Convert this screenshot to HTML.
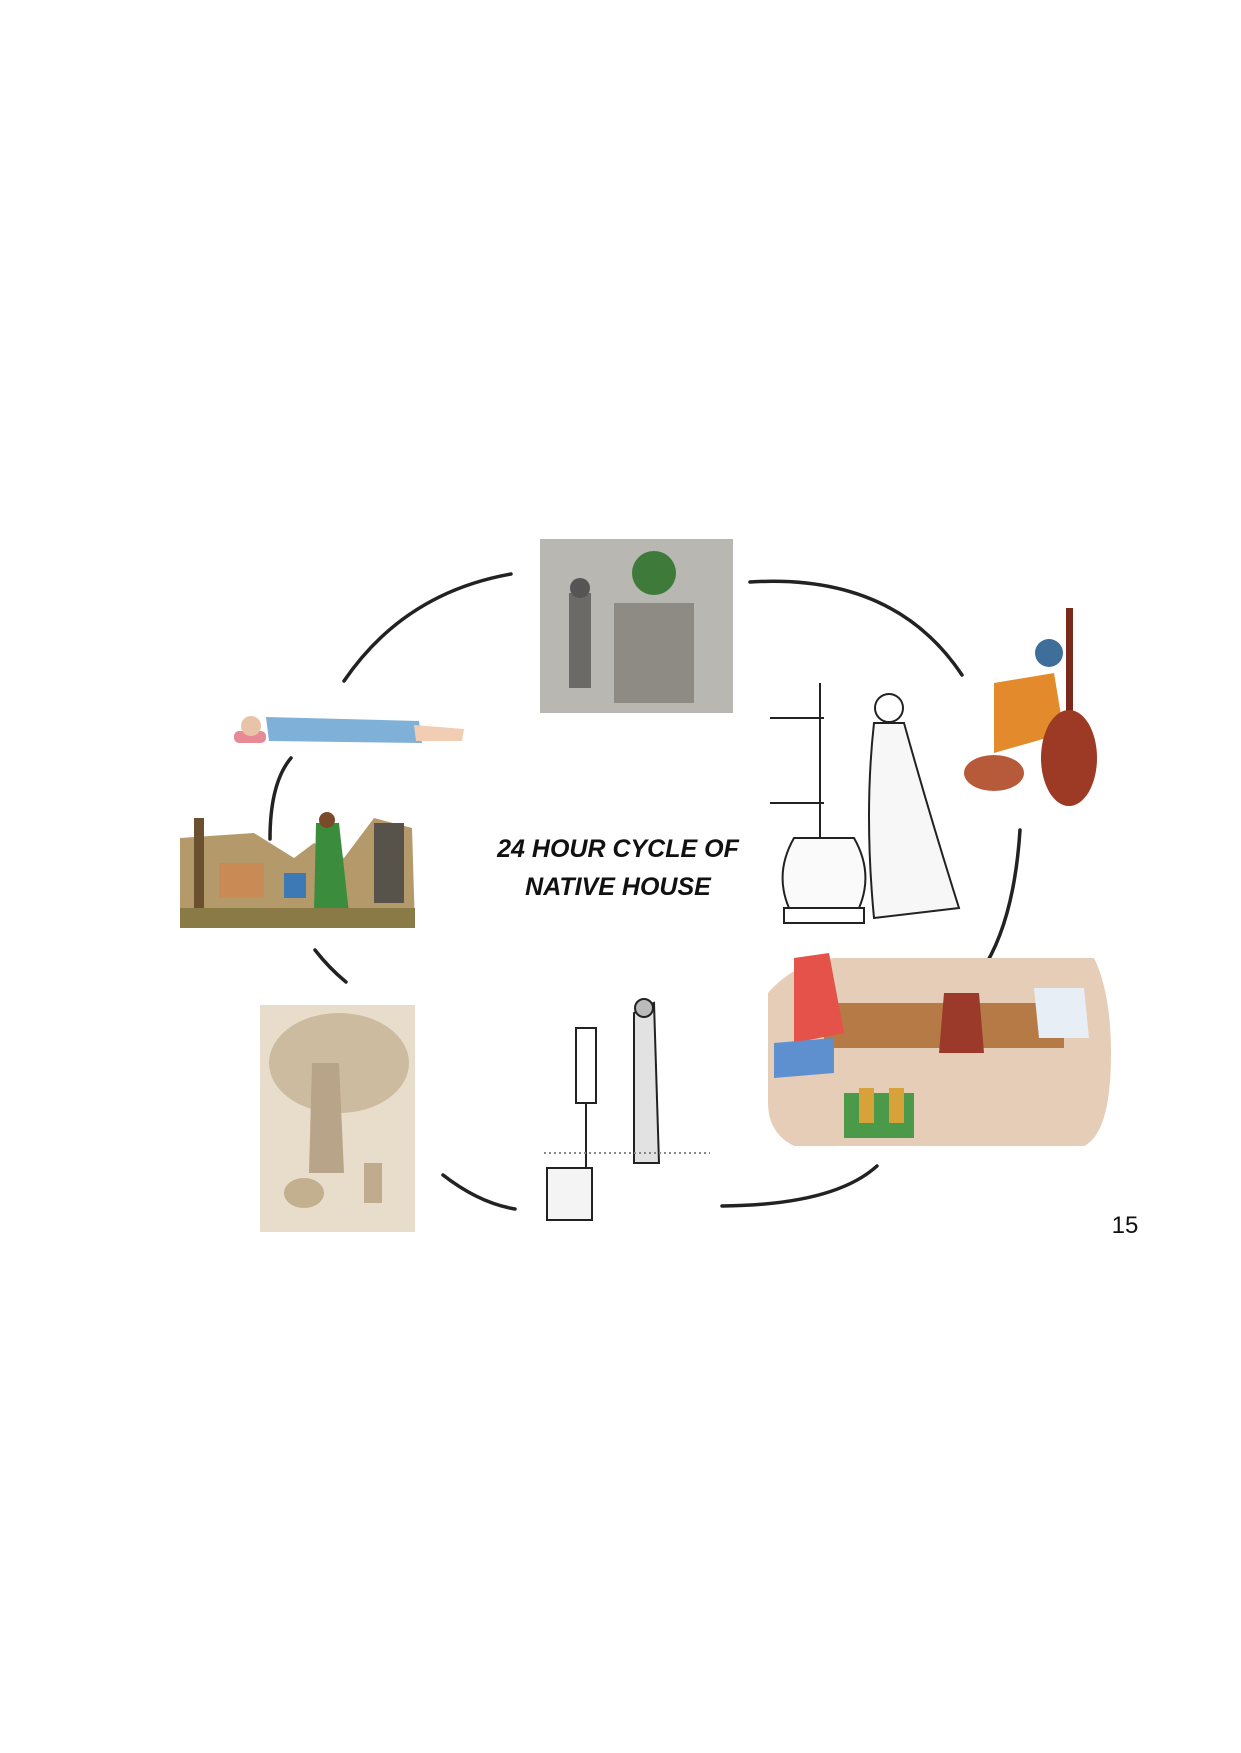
<!DOCTYPE html>
<html><head><meta charset="utf-8"><style>
html,body{margin:0;padding:0;background:#fff}
#page{position:relative;width:1241px;height:1753px;overflow:hidden;background:#fff;font-family:"Liberation Sans",sans-serif}
</style></head><body>
<div id="page">
<svg width="1241" height="1753" style="position:absolute;left:0;top:0">
<g transform="translate(-6,-7)">
 <g fill="none" stroke="#222" stroke-width="3.5" stroke-linecap="round">
  <path d="M350,688 Q410,600 517,581"/>
  <path d="M756,589 Q900,580 968,682"/>
  <path d="M297,765 Q276,790 276,846"/>
  <path d="M321,957 Q335,975 352,989"/>
  <path d="M1026,837 Q1020,930 987,979"/>
  <path d="M449,1182 Q485,1210 521,1216"/>
  <path d="M728,1213 Q840,1212 883,1173"/>
 </g>
 <g>
  <rect x="546" y="546" width="193" height="174" fill="#b9b7b2"/>
  <rect x="620" y="610" width="80" height="100" fill="#8e8b85"/>
  <circle cx="660" cy="580" r="22" fill="#3e7a3a"/>
  <rect x="575" y="600" width="22" height="95" fill="#6c6a66"/>
  <circle cx="586" cy="595" r="10" fill="#555"/>
 </g>
 <g>
  <rect x="240" y="738" width="32" height="12" rx="5" fill="#e88a95"/>
  <circle cx="257" cy="733" r="10" fill="#e9c3a8"/>
  <path d="M272,724 L425,728 L428,750 L275,748 Z" fill="#7fb0d8"/>
  <path d="M420,732 L470,736 L468,748 L422,748 Z" fill="#f0cdb3"/>
 </g>
 <g>
  <path d="M186,845 L260,840 L300,865 L320,850 L350,865 L380,825 L418,835 L421,935 L186,935 Z" fill="#b49a6a"/>
  <rect x="200" y="825" width="10" height="105" fill="#6b5030"/>
  <rect x="225" y="870" width="45" height="35" fill="#c98a55"/>
  <path d="M322,830 L345,830 L355,920 L320,920 Z" fill="#3b8d3d"/>
  <circle cx="333" cy="827" r="8" fill="#7a4a2a"/>
  <rect x="290" y="880" width="22" height="25" fill="#3d79b5"/>
  <rect x="380" y="830" width="30" height="80" fill="#57534a"/>
  <rect x="186" y="915" width="235" height="20" fill="#8a7a45"/>
 </g>
 <g>
  <rect x="266" y="1012" width="155" height="227" fill="#e8dccb"/>
  <ellipse cx="345" cy="1070" rx="70" ry="50" fill="#cdbba0"/>
  <path d="M318,1070 L345,1070 L350,1180 L315,1180 Z" fill="#b8a488"/>
  <ellipse cx="310" cy="1200" rx="20" ry="15" fill="#c3b08f"/>
  <rect x="370" y="1170" width="18" height="40" fill="#c0ab8c"/>
 </g>
 <g stroke="#222" stroke-width="2" fill="none">
  <rect x="582" y="1035" width="20" height="75"/>
  <line x1="592" y1="1110" x2="592" y2="1175"/>
  <rect x="553" y="1175" width="45" height="52" fill="#f4f4f4"/>
  <path d="M640,1020 L660,1010 L665,1170 L640,1170 Z" fill="#e2e2e2"/>
  <circle cx="650" cy="1015" r="9" fill="#bbb"/>
  <line x1="550" y1="1160" x2="716" y2="1160" stroke="#888" stroke-dasharray="2 3"/>
 </g>
 <g stroke="#222" stroke-width="2" fill="none">
  <line x1="826" y1="690" x2="826" y2="880"/>
  <line x1="776" y1="725" x2="830" y2="725"/>
  <line x1="776" y1="810" x2="830" y2="810"/>
  <path d="M800,845 Q780,880 795,915 L865,915 Q880,880 860,845 Z" fill="#fafafa"/>
  <rect x="790" y="915" width="80" height="15"/>
  <circle cx="895" cy="715" r="14"/>
  <path d="M880,730 L910,730 Q935,820 965,915 L880,925 Q870,820 880,730 Z" fill="#f7f7f7"/>
 </g>
 <g>
  <rect x="1072" y="615" width="7" height="120" fill="#7a2a1a"/>
  <circle cx="1055" cy="660" r="14" fill="#3e6e9a"/>
  <path d="M1000,690 L1060,680 L1070,740 L1000,760 Z" fill="#e38a2c"/>
  <ellipse cx="1075" cy="765" rx="28" ry="48" fill="#9c3a25"/>
  <ellipse cx="1000" cy="780" rx="30" ry="18" fill="#b75a3a"/>
 </g>
 <g>
  <path d="M774,1000 Q800,970 840,965 L1100,965 Q1117,1000 1117,1060 Q1117,1140 1090,1153 L800,1153 Q774,1140 774,1110 Z" fill="#e6cdb7"/>
  <rect x="830" y="1010" width="240" height="45" fill="#b57a45"/>
  <path d="M800,965 L835,960 L850,1040 L800,1050 Z" fill="#e4524a"/>
  <path d="M780,1050 L840,1045 L840,1080 L780,1085 Z" fill="#5e8fcf"/>
  <path d="M950,1000 L985,1000 L990,1060 L945,1060 Z" fill="#9b3a2a"/>
  <path d="M1040,995 L1090,995 L1095,1045 L1045,1045 Z" fill="#e8eef5"/>
  <rect x="850" y="1100" width="70" height="45" fill="#4a9a4a"/>
  <rect x="865" y="1095" width="15" height="35" fill="#d8a23a"/>
  <rect x="895" y="1095" width="15" height="35" fill="#d8a23a"/>
 </g>
 <text x="624" y="864" text-anchor="middle" font-family="Liberation Sans, sans-serif" font-size="25" font-weight="bold" font-style="italic" fill="#111">24 HOUR CYCLE OF</text>
 <text x="624" y="902" text-anchor="middle" font-family="Liberation Sans, sans-serif" font-size="25" font-weight="bold" font-style="italic" fill="#111">NATIVE HOUSE</text>
 <text x="1131" y="1240" text-anchor="middle" font-family="Liberation Sans, sans-serif" font-size="24" fill="#111">15</text>
</g>
</svg>
</div>
</body></html>
